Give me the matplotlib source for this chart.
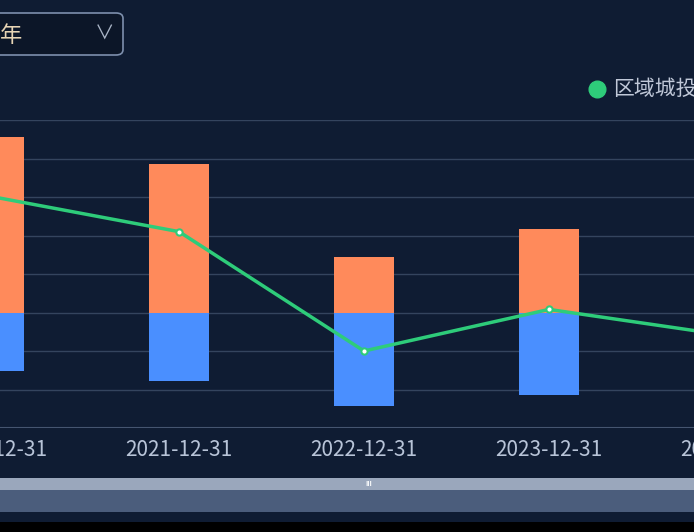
import matplotlib.pyplot as plt
import matplotlib as mpl
import matplotlib.transforms as mtransforms
from matplotlib.patches import FancyBboxPatch, Rectangle

mpl.rcParams['font.family'] = ['Noto Sans CJK SC', 'Noto Sans CJK JP', 'DejaVu Sans']

dates = ['2020-12-31', '2021-12-31', '2022-12-31', '2023-12-31', '2024-12-31']
pos_vals = [4.55, 3.87, 1.43, 2.18, 2.6]
neg_vals = [-1.52, -1.79, -2.44, -2.13, -1.9]
line_vals = [3.0, 2.1, -1.0, 0.08, -0.62]

BG = '#0f1c33'
W, H = 694, 532

fig = plt.figure(figsize=(6.94, 5.32), dpi=100, facecolor=BG)

# plot area: pixel rows 120..428, category spacing 185 px, first category at x=-6
ax = fig.add_axes([0, (H - 428) / H, 1, 308 / H])
ax.set_facecolor(BG)
x = list(range(len(dates)))
ax.bar(x, pos_vals, width=60 / 185, color='#ff8a5b', zorder=2)
ax.bar(x, neg_vals, width=60 / 185, color='#4a8fff', zorder=2)
ax.plot(x, line_vals, color='#2ecc7a', lw=2.5, marker='o', ms=4.5,
        mfc='white', mec='#2ecc7a', mew=1.5, zorder=3)
ax.set_yticks(range(-3, 6))
ax.yaxis.grid(True, color='#34445e', lw=1, zorder=0)
ax.axhline(-3, color='#4a5a75', lw=1.5, zorder=1)
ax.tick_params(left=False, labelleft=False, bottom=False, labelbottom=False)
ax.set_xlim(6 / 185, 700 / 185)
ax.set_ylim(-3, 5)
for s in ax.spines.values():
    s.set_visible(False)

# category labels (drawn as text so the partly visible edge ones stay)
trans = mtransforms.blended_transform_factory(ax.transData, fig.transFigure)
for xi, d in zip(x, dates):
    ax.text(xi, (H - 450) / H, d, transform=trans, ha='center', va='center',
            color='#b8c4d8', fontsize=15, clip_on=False)

# dropdown box
box = FancyBboxPatch((-20 / W, (H - 55) / H), 143 / W, 42 / H,
                     boxstyle='round,pad=0,rounding_size=0.01',
                     transform=fig.transFigure, fc='#0c1628', ec='#7d8fad', lw=1.2)
fig.patches.append(box)
fig.text(0 / W, (H - 36) / H, '年', color='#e8d5b5', fontsize=16, va='center')
fig.text(105 / W, (H - 34) / H, '∨', color='#a9b4c6', fontsize=14, va='center', ha='center')

# legend
fig.lines.append(mpl.lines.Line2D([597 / W], [(H - 89) / H], transform=fig.transFigure,
                                  marker='o', ms=12, color='#2ecc7a', ls='none'))
fig.text(613 / W, (H - 89) / H, '区域城投', color='#c0c8d8', fontsize=15, va='center')

# data zoom slider
fig.patches.append(Rectangle((0, (H - 490) / H), 1, 12 / H, transform=fig.transFigure,
                             fc='#9aa7bc', ec='none'))
fig.patches.append(Rectangle((0, (H - 512) / H), 1, 22 / H, transform=fig.transFigure,
                             fc='#4b5d7c', ec='none'))
fig.text(369 / W, (H - 484) / H, 'III', color='white', fontsize=5, ha='center', va='center',
         fontweight='bold')
fig.patches.append(Rectangle((0, 0), 1, 10 / H, transform=fig.transFigure,
                             fc='black', ec='none'))

fig.savefig('out.png', dpi=100, facecolor=BG)
